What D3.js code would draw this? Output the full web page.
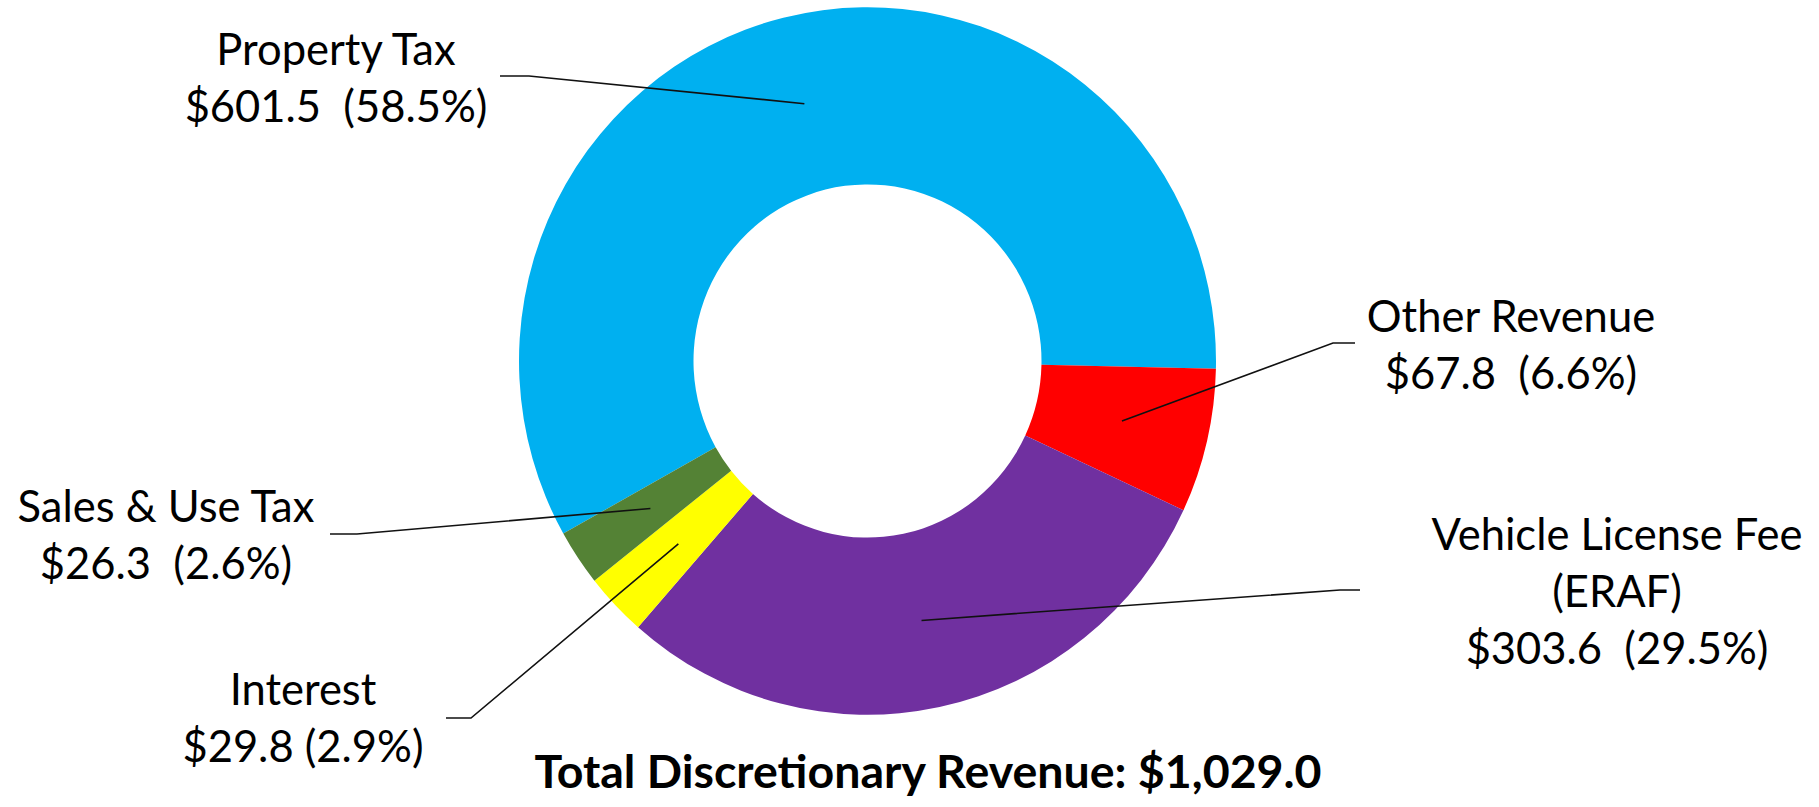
<!DOCTYPE html>
<html>
<head>
<meta charset="utf-8">
<script src="https://cdn.jsdelivr.net/npm/d3@7"></script>
<style>
  html, body { margin: 0; padding: 0; background: #fff; }
  svg { display: block; }
  text { white-space: pre; }
</style>
</head>
<body>
<svg id="chart" width="1819" height="807"></svg>
<script>
// ---- data ----
const categories = ["Property Tax", "Other Revenue", "Vehicle License Fee (ERAF)", "Interest", "Sales & Use Tax"];
const values = [601.5, 67.8, 303.6, 29.8, 26.3];
const percents = [58.5, 6.6, 29.5, 2.9, 2.6];
const labelLines = [
  ["Property Tax", "$601.5  (58.5%)"],
  ["Other Revenue", "$67.8  (6.6%)"],
  ["Vehicle License Fee", "(ERAF)", "$303.6  (29.5%)"],
  ["Interest", "$29.8 (2.9%)"],
  ["Sales & Use Tax", "$26.3  (2.6%)"]
];
const totalLabel = "Total Discretionary Revenue: $1,029.0";

// ---- styles / layout ----
const colors = ["#00B0F0", "#FF0000", "#7030A0", "#FFFF00", "#548235"];
const cx = 867.5, cy = 361, rOuter = 348.5, rInner = 174, yStretch = 1.015;
const startDeg = -119.2;
const labelLayout = [
  { x: 336, y0: 65, lead: [[500, 76], [529, 76]] },
  { x: 1511, y0: 332, lead: [[1355, 343], [1333, 343]] },
  { x: 1617, y0: 550, lead: [[1360, 590], [1340, 590]] },
  { x: 303, y0: 705, lead: [[446, 718], [471, 718]] },
  { x: 166, y0: 522, lead: [[330, 534], [357, 534]] }
];
const lineGap = 57;

const svg = d3.select("#chart");

const pie = d3.pie().sort(null).value(d => d)
  .startAngle(startDeg * Math.PI / 180)
  .endAngle(startDeg * Math.PI / 180 + 2 * Math.PI);
const arcs = pie(values);
const arc = d3.arc().innerRadius(rInner).outerRadius(rOuter);

const g = svg.append("g")
  .attr("transform", `translate(${cx},${cy}) scale(1,${yStretch})`);

g.selectAll("path.slice")
  .data(arcs)
  .join("path")
  .attr("class", "slice")
  .attr("d", arc)
  .attr("fill", (d, i) => colors[i]);

// leader lines
const line = d3.line();
svg.selectAll("path.leader")
  .data(arcs)
  .join("path")
  .attr("class", "leader")
  .attr("d", (d, i) => {
    const c = arc.centroid(d);
    const p = [cx + c[0], cy + c[1] * yStretch];
    return line([...labelLayout[i].lead, p]);
  })
  .attr("fill", "none")
  .attr("stroke", "#111")
  .attr("stroke-width", 1.6);

// labels
const font = "Lato, 'Open Sans', sans-serif";
labelLines.forEach((lines, i) => {
  const L = labelLayout[i];
  const t = svg.append("text")
    .attr("text-anchor", "middle")
    .attr("font-family", font)
    .attr("font-size", 43.5)
    .attr("fill", "#000");
  lines.forEach((s, k) => {
    t.append("tspan")
      .attr("x", L.x)
      .attr("y", L.y0 + k * lineGap)
      .text(s);
  });
});

svg.append("text")
  .attr("x", 928)
  .attr("y", 788)
  .attr("text-anchor", "middle")
  .attr("font-family", font)
  .attr("font-weight", "bold")
  .attr("font-size", 46.5)
  .attr("fill", "#000")
  .text(totalLabel);
</script>
</body>
</html>
